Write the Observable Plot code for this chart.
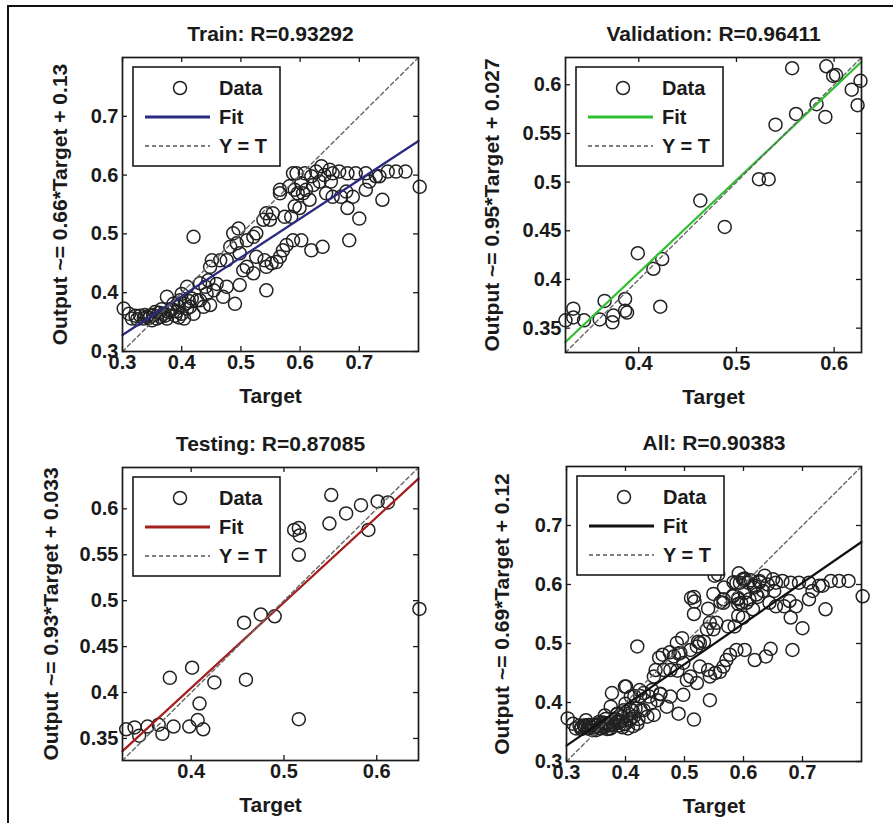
<!DOCTYPE html>
<html>
<head>
<meta charset="utf-8">
<script src="https://cdn.jsdelivr.net/npm/d3@7"></script>
<script src="https://cdn.jsdelivr.net/npm/@observablehq/plot@0.6"></script>
<style>
  html, body { margin: 0; padding: 0; background: #fff; }
  #wrap { position: relative; width: 893px; height: 823px; background: #fff; overflow: hidden; }
  .panel { position: absolute; }
  .bord { position: absolute; background: #111; z-index: 5; }
</style>
</head>
<body>
<div id="wrap">
  <div class="bord" style="left:8px;top:5px;width:885px;height:2px"></div>
  <div class="bord" style="left:7px;top:5px;width:2px;height:818px"></div>
  <div class="panel" id="p1" style="left:0px;top:0px;width:440px;height:410px"></div>
  <div class="panel" id="p2" style="left:440px;top:0px;width:453px;height:410px"></div>
  <div class="panel" id="p3" style="left:0px;top:410px;width:440px;height:413px"></div>
  <div class="panel" id="p4" style="left:440px;top:410px;width:453px;height:413px"></div>
</div>
<script>
// ---------------- DATA ----------------
const trainTarget = [0.802,0.778,0.762,0.748,0.734,0.739,0.728,0.717,0.711,0.700,0.683,0.694,0.680,0.678,0.680,0.669,0.666,0.655,0.652,0.650,0.641,0.633,0.636,0.627,0.622,0.619,0.608,0.602,0.605,0.594,0.588,0.596,0.591,0.638,0.619,0.602,0.588,0.577,0.571,0.566,0.560,0.552,0.543,0.540,0.543,0.566,0.566,0.574,0.554,0.549,0.543,0.538,0.526,0.521,0.510,0.496,0.487,0.493,0.498,0.504,0.498,0.490,0.482,0.476,0.465,0.451,0.448,0.420,0.459,0.454,0.442,0.431,0.448,0.437,0.470,0.476,0.521,0.510,0.526,0.409,0.400,0.397,0.414,0.420,0.386,0.375,0.381,0.369,0.364,0.375,0.355,0.347,0.341,0.336,0.330,0.322,0.316,0.302,0.311,0.358,0.350,0.389,0.400,0.409,0.426,0.417,0.440,0.431,0.445,0.582,0.610,0.655,0.689,0.711,0.616,0.644,0.585,0.591,0.599,0.345,0.352,0.362,0.372,0.378,0.384,0.392,0.395,0.405,0.412,0.325,0.338,0.366,0.395,0.404];
const trainOutput = [0.580,0.606,0.606,0.606,0.598,0.558,0.598,0.589,0.575,0.526,0.489,0.603,0.603,0.572,0.544,0.563,0.606,0.603,0.589,0.609,0.600,0.589,0.615,0.606,0.583,0.598,0.603,0.586,0.569,0.603,0.603,0.569,0.575,0.478,0.472,0.489,0.489,0.481,0.472,0.461,0.452,0.450,0.444,0.455,0.404,0.575,0.569,0.529,0.535,0.524,0.535,0.524,0.501,0.495,0.489,0.509,0.501,0.484,0.467,0.438,0.413,0.381,0.478,0.455,0.455,0.455,0.444,0.495,0.415,0.404,0.398,0.387,0.379,0.376,0.393,0.410,0.433,0.444,0.461,0.410,0.398,0.387,0.376,0.364,0.381,0.393,0.370,0.364,0.359,0.356,0.367,0.361,0.359,0.356,0.361,0.361,0.356,0.373,0.364,0.356,0.353,0.361,0.364,0.373,0.387,0.390,0.410,0.416,0.421,0.581,0.575,0.563,0.563,0.603,0.558,0.569,0.529,0.547,0.544,0.357,0.362,0.366,0.361,0.367,0.372,0.368,0.376,0.381,0.386,0.355,0.362,0.372,0.358,0.356];

const valTarget = [0.557,0.592,0.602,0.599,0.627,0.618,0.624,0.582,0.591,0.561,0.540,0.523,0.533,0.463,0.488,0.399,0.415,0.424,0.422,0.365,0.386,0.386,0.388,0.373,0.374,0.360,0.344,0.333,0.333,0.325];
const valOutput = [0.617,0.619,0.610,0.609,0.604,0.595,0.579,0.580,0.567,0.570,0.559,0.503,0.503,0.481,0.454,0.427,0.411,0.421,0.372,0.378,0.380,0.368,0.366,0.356,0.363,0.359,0.358,0.370,0.361,0.358];

const testTarget = [0.551,0.549,0.567,0.583,0.601,0.612,0.591,0.511,0.516,0.517,0.516,0.646,0.457,0.475,0.490,0.401,0.377,0.459,0.425,0.409,0.516,0.407,0.398,0.413,0.381,0.369,0.365,0.353,0.344,0.339,0.330];
const testOutput = [0.615,0.584,0.595,0.604,0.608,0.607,0.577,0.577,0.579,0.571,0.550,0.491,0.476,0.485,0.483,0.427,0.416,0.414,0.411,0.388,0.371,0.370,0.363,0.360,0.363,0.355,0.365,0.363,0.353,0.362,0.360];

const allTarget = trainTarget.concat(valTarget, testTarget);
const allOutput = trainOutput.concat(valOutput, testOutput);

// axis limits and ticks
const trainLim = [0.3, 0.8];
const valLim = [0.325, 0.628];
const testLim = [0.326, 0.645];
const allLim = [0.3, 0.8];
const ticksA = [0.3, 0.4, 0.5, 0.6, 0.7];
const ticksBx = [0.4, 0.5, 0.6];
const ticksBy = [0.35, 0.4, 0.45, 0.5, 0.55, 0.6];

// fit coefficients (from axis labels)
const fitSlope = [0.66, 0.95, 0.93, 0.69];
const fitIntercept = [0.13, 0.027, 0.033, 0.12];

const titles = ["Train: R=0.93292", "Validation: R=0.96411", "Testing: R=0.87085", "All: R=0.90383"];
const ylabels = ["Output ~= 0.66*Target + 0.13", "Output ~= 0.95*Target + 0.027", "Output ~= 0.93*Target + 0.033", "Output ~= 0.69*Target + 0.12"];
const legendLabels = ["Data", "Fit", "Y = T"];
const fitColors = ["#2a2a82", "#2fbf2f", "#a51e1e", "#111111"];

// ---------------- DRAW ----------------
const FONT = "'Liberation Sans', Arial, Helvetica, sans-serif";
const INK = "#1a1a1a";

function panel(o) {
  const data = o.tgt.map((t, i) => ({t, o: o.out[i]}));
  const m = o.m;
  const innerW = o.w - m.l - m.r, innerH = o.h - m.t - m.b;
  const fmt = d => String(d);
  const svg = Plot.plot({
    width: o.w, height: o.h,
    marginLeft: m.l, marginRight: m.r, marginTop: m.t, marginBottom: m.b,
    style: {fontFamily: FONT, fontSize: "20px", fontWeight: "bold", color: INK, background: "transparent", overflow: "visible"},
    x: {domain: o.lim, ticks: o.xt, tickSize: 0, tickPadding: 3, label: null, tickFormat: fmt},
    y: {domain: o.lim, ticks: o.yt, tickSize: 0, tickPadding: 4, label: null, tickFormat: fmt},
    marks: [
      Plot.dot(data, {x: "t", y: "o", r: 6.5, stroke: "#222", strokeWidth: 1.5}),
      Plot.line(o.lim, {x: d => d, y: d => o.slope * d + o.icpt, stroke: o.color, strokeWidth: 2.2}),
      Plot.line(o.lim, {x: d => d, y: d => d, stroke: "#666", strokeWidth: 1.4, strokeDasharray: "4,3"}),
      Plot.tickX(o.xt, {x: d => d, insetTop: innerH - 5, stroke: INK, strokeWidth: 1.3}),
      Plot.tickX(o.xt, {x: d => d, insetBottom: innerH - 5, stroke: INK, strokeWidth: 1.3}),
      Plot.tickY(o.yt, {y: d => d, insetRight: innerW - 5, stroke: INK, strokeWidth: 1.3}),
      Plot.tickY(o.yt, {y: d => d, insetLeft: innerW - 5, stroke: INK, strokeWidth: 1.3}),
      Plot.frame({stroke: INK, strokeWidth: 1.7}),
      Plot.text([o.title], {text: d => d, frameAnchor: "top", dy: -17, lineAnchor: "bottom", fontSize: 21, fill: INK}),
      Plot.text(["Target"], {text: d => d, frameAnchor: "bottom", dy: 51, lineAnchor: "bottom", fontSize: 21, fill: INK}),
      Plot.text([o.ylabel], {text: d => d, frameAnchor: "left", dx: o.ydx, rotate: -90, textAnchor: "middle", lineAnchor: "middle", fontSize: 21, fill: INK})
    ]
  });
  // legend (drawn on top, MATLAB style)
  const g = d3.select(svg).append("g").attr("font-family", FONT).attr("font-weight", "bold").attr("font-size", 20).attr("fill", INK);
  const x0 = m.l + 11, y0 = m.t + 10;
  g.append("rect").attr("x", x0).attr("y", y0).attr("width", 147).attr("height", 99)
    .attr("fill", "#fff").attr("stroke", INK).attr("stroke-width", 1.6);
  g.append("circle").attr("cx", x0 + 47).attr("cy", y0 + 21).attr("r", 6.5)
    .attr("fill", "none").attr("stroke", "#222").attr("stroke-width", 1.5);
  g.append("line").attr("x1", x0 + 12).attr("x2", x0 + 77).attr("y1", y0 + 50).attr("y2", y0 + 50)
    .attr("stroke", o.color).attr("stroke-width", 3);
  g.append("line").attr("x1", x0 + 12).attr("x2", x0 + 77).attr("y1", y0 + 79).attr("y2", y0 + 79)
    .attr("stroke", "#555").attr("stroke-width", 1.4).attr("stroke-dasharray", "4,3");
  const ly = [21, 50, 79];
  legendLabels.forEach((s, i) => {
    g.append("text").attr("x", x0 + 86).attr("y", y0 + ly[i]).attr("dy", "0.36em").attr("text-anchor", "start").text(s);
  });
  document.getElementById(o.id).appendChild(svg);
}

panel({id: "p1", w: 440, h: 410, m: {l: 122, r: 22, t: 57, b: 59}, lim: trainLim, xt: ticksA, yt: ticksA,
  tgt: trainTarget, out: trainOutput, slope: fitSlope[0], icpt: fitIntercept[0], color: fitColors[0],
  title: titles[0], ylabel: ylabels[0], ydx: -62});
panel({id: "p2", w: 453, h: 410, m: {l: 125, r: 32, t: 57, b: 58}, lim: valLim, xt: ticksBx, yt: ticksBy,
  tgt: valTarget, out: valOutput, slope: fitSlope[1], icpt: fitIntercept[1], color: fitColors[1],
  title: titles[1], ylabel: ylabels[1], ydx: -73});
panel({id: "p3", w: 440, h: 413, m: {l: 122, r: 22, t: 57, b: 63}, lim: testLim, xt: ticksBx, yt: ticksBy,
  tgt: testTarget, out: testOutput, slope: fitSlope[2], icpt: fitIntercept[2], color: fitColors[2],
  title: titles[2], ylabel: ylabels[2], ydx: -71});
panel({id: "p4", w: 453, h: 413, m: {l: 126, r: 32, t: 56, b: 62}, lim: allLim, xt: ticksA, yt: ticksA,
  tgt: allTarget, out: allOutput, slope: fitSlope[3], icpt: fitIntercept[3], color: fitColors[3],
  title: titles[3], ylabel: ylabels[3], ydx: -64});
</script>
</body>
</html>
